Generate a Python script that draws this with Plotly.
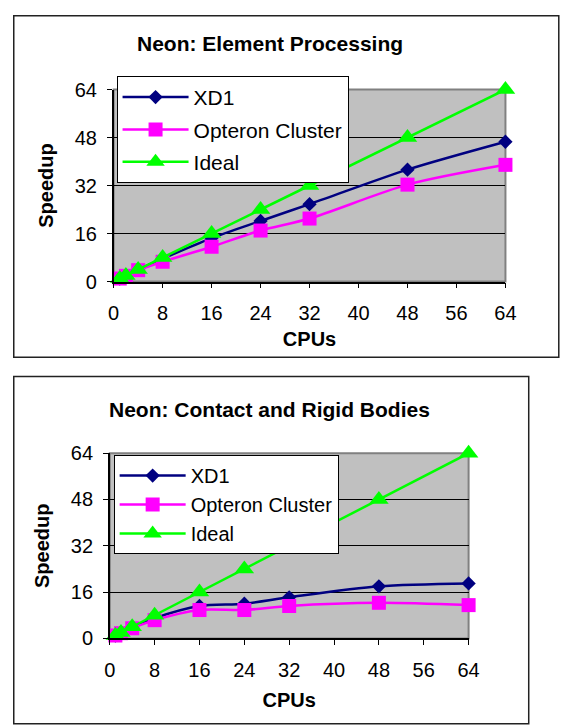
import plotly.graph_objects as go

# ---- data ----
cpus = [1, 2, 4, 8, 16, 24, 32, 48, 64]
elem_xd1 = [1, 2, 3.9, 7.6, 14.5, 20.2, 25.8, 37.3, 46.6]
elem_opteron = [1, 1.9, 3.8, 6.6, 11.6, 17.0, 21.0, 32.3, 38.9]
ideal = [1, 2, 4, 8, 16, 24, 32, 48, 64]
contact_xd1 = [1, 2, 3.8, 7.0, 11.2, 12.0, 14.2, 18.0, 19.0]
contact_opteron = [1, 1.8, 3.5, 6.3, 9.8, 9.8, 11.2, 12.3, 11.5]
x_ticks = [0, 8, 16, 24, 32, 40, 48, 56, 64]
y_ticks = [0, 16, 32, 48, 64]
titles = ["Neon: Element Processing", "Neon: Contact and Rigid Bodies"]
series_names = ["XD1", "Opteron Cluster", "Ideal"]

W, H = 563, 726
FONT = "Liberation Sans, Arial, sans-serif"

def px(x):
    return x / W

def py(y):
    return 1 - y / H

colors = ["#000080", "#FF00FF", "#00FF00"]
symbols = ["diamond", "square", "triangle-up"]
sizes = [11, 14, 17]

fig = go.Figure()

panels = [
    (elem_xd1, elem_opteron, ideal, "x", "y", "legend"),
    (contact_xd1, contact_opteron, ideal, "x2", "y2", "legend2"),
]
for xd, op, idl, xa, ya, lg in panels:
    for i, (vals, name) in enumerate(zip([xd, op, idl], series_names)):
        fig.add_trace(go.Scatter(
            x=cpus, y=vals, name=name, mode="lines+markers",
            xaxis=xa, yaxis=ya, legend=lg, legendgroup=name + lg,
            line=dict(color=colors[i], width=2.5,
                      shape="spline" if i < 2 else "linear", smoothing=0.8),
            marker=dict(symbol=symbols[i], size=sizes[i], color=colors[i]),
            cliponaxis=False,
        ))

axis_common = dict(
    range=[0, 64], showline=True, linecolor="black", linewidth=1.5,
    ticks="outside", ticklen=5, tickcolor="black", tickwidth=1,
    tickfont=dict(family=FONT, size=20, color="black"),
    zeroline=False, fixedrange=True,
)

doms = [
    dict(x=[px(111), px(515)], y=[py(279), py(81)]),
    dict(x=[px(107), px(477)], y=[py(647), py(456)]),
]
x_standoffs = [9, 13]
for k, d in enumerate(doms):
    sx = "" if k == 0 else "2"
    fig.update_layout(**{
        "xaxis" + sx: dict(axis_common, domain=d["x"], anchor="y" + sx,
                           tickvals=x_ticks, showgrid=False,
                           ticklabelstandoff=8,
                           title=dict(text="<b>CPUs</b>", standoff=x_standoffs[k],
                                      font=dict(family=FONT, size=20, color="black"))),
        "yaxis" + sx: dict(axis_common, domain=d["y"], anchor="x" + sx,
                           tickvals=y_ticks, showgrid=True, gridcolor="black",
                           gridwidth=1, ticklabelstandoff=6,
                           title=dict(text="<b>Speedup</b>", standoff=16,
                                      font=dict(family=FONT, size=20, color="black"))),
    })
    # plot-area border (gray)
    fig.add_shape(type="rect", xref=f"x{sx} domain", yref=f"y{sx} domain",
                  x0=0, x1=1, y0=0, y1=1, line=dict(color="#808080", width=2),
                  layer="below")

# chart area frames
fig.add_shape(type="rect", xref="paper", yref="paper",
              x0=px(8), x1=px(570), y0=py(357), y1=py(5),
              line=dict(color="#222222", width=1.5))
fig.add_shape(type="rect", xref="paper", yref="paper",
              x0=px(8), x1=px(539), y0=py(735), y1=py(377),
              line=dict(color="#222222", width=1.5))

# chart titles
for t, (cx, cy) in zip(titles, [(272, 34), (272, 411)]):
    fig.add_annotation(text=f"<b>{t}</b>", xref="paper", yref="paper",
                       x=px(cx), y=py(cy), xanchor="center", yanchor="middle",
                       showarrow=False, font=dict(family=FONT, size=21, color="black"))

legend_common = dict(
    bgcolor="white", bordercolor="black", borderwidth=1,
    xanchor="left", yanchor="top", xref="paper", yref="paper",
    itemwidth=66, itemclick=False, itemdoubleclick=False,
)

fig.update_layout(
    width=W, height=H, margin=dict(l=0, r=0, t=0, b=0),
    paper_bgcolor="white", plot_bgcolor="#C0C0C0",
    showlegend=True,
    legend=dict(legend_common, x=px(114), y=py(67), tracegroupgap=2,
                font=dict(family=FONT, size=21, color="black")),
    legend2=dict(legend_common, x=px(111), y=py(458), tracegroupgap=0,
                 font=dict(family=FONT, size=20, color="black")),
)

fig.write_html("out.html")
